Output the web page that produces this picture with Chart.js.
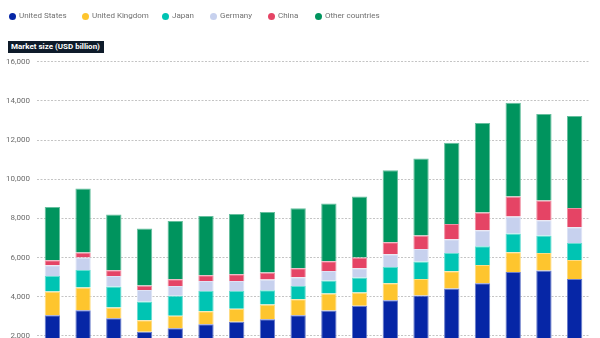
<!DOCTYPE html>
<html><head><meta charset="utf-8">
<script src="https://cdn.jsdelivr.net/npm/chart.js@4.4.1/dist/chart.umd.min.js"></script>
<style>
html,body{margin:0;padding:0;background:#fff;width:600px;height:338px;overflow:hidden;font-family:Roboto,sans-serif;}
#wrap{position:absolute;left:0;top:0;width:600px;height:400px;}
.item{position:absolute;top:12px;height:8px;display:flex;align-items:center;font-size:8px;color:#707070;line-height:8px;white-space:nowrap;}
.dot{width:7px;height:7px;border-radius:50%;margin-right:3.5px;flex:none;}
#ytitle{position:absolute;left:8px;top:41px;height:12px;width:93px;padding-left:3px;background:#0e1b2a;color:#fff;font-weight:bold;font-size:8px;line-height:12px;white-space:nowrap;}
</style>
</head><body>
<div id="wrap"><canvas id="c" width="600" height="400"></canvas></div>
<div id="legend"></div>
<div id="ytitle">Market size (USD billion)</div>
<script>
const categories = ['2006','2007','2008','2009','2010','2011','2012','2013','2014','2015','2016','2017','2018','2019','2020','2021','2022','2023'];
const unitedStates   = [3056,3311,2903,2204,2393,2597,2714,2852,3056,3296,3531,3821,4061,4418,4689,5265,5337,4908];
const unitedKingdom  = [1210,1158, 546, 597, 627, 663, 664, 750, 816, 867, 683, 868, 847, 883, 933,1005, 898, 970];
const japan          = [ 796, 898,1071, 954,1021,1036, 918, 730, 679, 663, 766, 831, 888, 934, 955, 954, 887, 867];
const germany        = [ 546, 633, 541, 592, 510, 510, 510, 546, 444, 490, 474, 648, 643, 699, 816, 868, 781, 801];
const china          = [ 255, 255, 291, 224, 342, 291, 342, 357, 459, 495, 546, 613, 683, 780, 903,1020,1005, 985];
const otherCountries = [2718,3265,2842,2909,2974,3025,3076,3092,3061,2944,3112,3673,3929,4153,4571,4796,4419,4694];
const seriesNames = ['United States','United Kingdom','Japan','Germany','China','Other countries'];
const yTicks = [0,2000,4000,6000,8000,10000,12000,14000,16000];

const colors  = ['#0626a6','#fec52e','#00c4b3','#c7d1ee','#e54465','#00945e'];
const borders = ['#6a7dca','#fedc82','#66dcd1','#dde3f5','#ef8fa3','#66bf9e'];
const series = [unitedStates, unitedKingdom, japan, germany, china, otherCountries];

// HTML legend
const legendX = [12, 85, 165, 213, 271, 318];
const lg = document.getElementById('legend');
seriesNames.forEach((n,i)=>{
  const d = document.createElement('div');
  d.className='item';
  d.style.left = (legendX[i]-3.5)+'px';
  d.innerHTML = '<span class="dot" style="background:'+colors[i]+'"></span><span>'+n+'</span>';
  lg.appendChild(d);
});

new Chart(document.getElementById('c'), {
  type:'bar',
  data:{
    labels: categories,
    datasets: series.map((s,i)=>({
      label: seriesNames[i], data: s,
      backgroundColor: colors[i], borderColor: borders[i], borderWidth: 1,
      categoryPercentage: 1, barPercentage: 0.5
    }))
  },
  options:{
    responsive:false, animation:false,
    layout:{padding:{top:61.7,right:10,left:0,bottom:0}},
    plugins:{legend:{display:false}, tooltip:{enabled:false}},
    scales:{
      x:{stacked:true, grid:{display:false}, border:{display:false},
         ticks:{font:{size:8,family:'Roboto'}, color:'#6b6b6b'},
         afterFit:(s)=>{s.height=25;}},
      y:{stacked:true, min:0, max:16000,
         afterBuildTicks:(s)=>{s.ticks = yTicks.map(v=>({value:v}));},
         ticks:{font:{size:8,family:'Roboto'}, color:'#6b6b6b', padding:7,
                callback:(v)=>Number(v).toLocaleString('en-US')},
         grid:{color:'#c4c4c4', drawTicks:false, lineWidth:1},
         border:{display:false, dash:[2,1.5]},
         afterFit:(s)=>{s.width=37;}}
    }
  }
});
</script>
</body></html>
